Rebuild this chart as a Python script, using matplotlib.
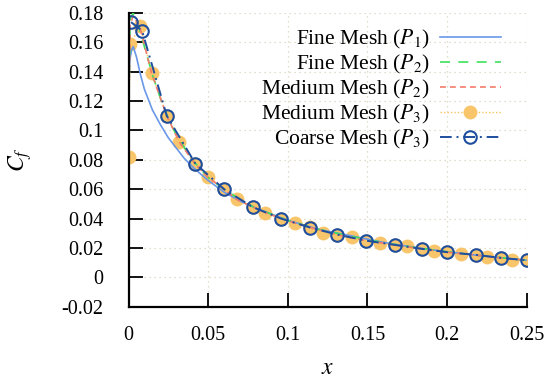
import matplotlib
matplotlib.use("Agg")
import matplotlib.pyplot as plt
from matplotlib.ticker import FixedLocator, FuncFormatter

plt.rcParams['font.family'] = ['Liberation Serif', 'DejaVu Serif']
plt.rcParams['mathtext.fontset'] = 'stix'

# ---------------- data ----------------
fine_p1_x = [0.0, 0.0008, 0.002, 0.003, 0.005, 0.0075, 0.01, 0.0125, 0.015, 0.02, 0.025,
             0.03, 0.035, 0.04, 0.045, 0.05, 0.06, 0.07, 0.08, 0.09, 0.1, 0.12, 0.14,
             0.16, 0.18, 0.2, 0.22, 0.24, 0.25]
fine_p1_y = [0.13, 0.148, 0.155, 0.157, 0.150, 0.138, 0.128, 0.121, 0.114, 0.104, 0.095,
             0.088, 0.081, 0.0755, 0.0706, 0.066, 0.058, 0.052, 0.047, 0.043, 0.0388, 0.0325,
             0.0282, 0.0238, 0.0203, 0.0174, 0.0149, 0.0127, 0.0116]

fine_p2_x = [0.0, 0.001, 0.003, 0.006, 0.01, 0.015, 0.02, 0.025, 0.03, 0.04, 0.05, 0.06,
             0.07, 0.08, 0.1, 0.12, 0.14, 0.16, 0.18, 0.2, 0.22, 0.24, 0.25]
fine_p2_y = [0.10, 0.176, 0.180, 0.172, 0.157, 0.138, 0.122, 0.108, 0.097, 0.080, 0.068,
             0.060, 0.053, 0.047, 0.0388, 0.0325, 0.0278, 0.0236, 0.0203, 0.0174, 0.0149,
             0.0127, 0.0116]

medium_p2_x = [0.0, 0.001, 0.003, 0.0072, 0.0145, 0.024, 0.032, 0.042, 0.05, 0.06, 0.068,
               0.078, 0.086, 0.096, 0.1045, 0.114, 0.131, 0.149, 0.167, 0.184, 0.2, 0.218,
               0.234, 0.25]
medium_p2_y = [0.10, 0.172, 0.178, 0.170, 0.139, 0.110, 0.092, 0.077, 0.068, 0.060, 0.053,
               0.048, 0.044, 0.040, 0.037, 0.034, 0.029, 0.025, 0.0221, 0.0194, 0.0171,
               0.0151, 0.0132, 0.0116]

medium_p3_x = [0.0, 0.001, 0.0075, 0.0145, 0.024, 0.032, 0.042, 0.050, 0.060, 0.068, 0.078,
               0.086, 0.096, 0.1045, 0.114, 0.122, 0.131, 0.140, 0.149, 0.158, 0.167, 0.175,
               0.184, 0.192, 0.200, 0.209, 0.218, 0.225, 0.234, 0.241, 0.250]
medium_p3_y = [0.082, 0.159, 0.171, 0.139, 0.110, 0.092, 0.077, 0.068, 0.060, 0.053, 0.048,
               0.044, 0.040, 0.037, 0.034, 0.0305, 0.029, 0.0275, 0.025, 0.0235, 0.022, 0.021,
               0.0194, 0.0182, 0.0171, 0.0160, 0.0153, 0.0141, 0.0132, 0.0120, 0.0116]

coarse_p3_x = [0.0016, 0.0085, 0.024, 0.042, 0.060, 0.078, 0.096, 0.114, 0.131, 0.149,
               0.167, 0.184, 0.200, 0.218, 0.234, 0.250]
coarse_p3_y = [0.1737, 0.168, 0.110, 0.0774, 0.0600, 0.0478, 0.0399, 0.0339, 0.0291, 0.0250,
               0.0221, 0.0194, 0.0171, 0.0153, 0.0132, 0.0116]

x_ticks = [0, 0.05, 0.1, 0.15, 0.2, 0.25]
y_ticks = [-0.02, 0, 0.02, 0.04, 0.06, 0.08, 0.1, 0.12, 0.14, 0.16, 0.18]

labels = [r"Fine Mesh ($P_1$)", r"Fine Mesh ($P_2$)", r"Medium Mesh ($P_2$)",
          r"Medium Mesh ($P_3$)", r"Coarse Mesh ($P_3$)"]

# ---------------- figure ----------------
fig = plt.figure(figsize=(5.52, 3.81), dpi=100)
ax = fig.add_axes([0.2328, 0.195, 0.7214, 0.771])

ax.plot(fine_p1_x, fine_p1_y, color='#6a98e8', lw=1.2, label=labels[0], zorder=3)
ax.plot(fine_p2_x, fine_p2_y, color='#3de05a', lw=1.2, ls=(0, (6, 5)), label=labels[1], zorder=3)
ax.plot(medium_p2_x, medium_p2_y, color='#f47a6a', lw=1.2, ls=(0, (3.5, 2.5)), label=labels[2], zorder=3)
ax.plot(medium_p3_x, medium_p3_y, color='#f7c261', lw=1.0, ls=(0, (1, 1.5)), marker='o',
        ms=10, mec='none', mfc='#f8c56a', label=labels[3], zorder=2)
ax.plot(coarse_p3_x, coarse_p3_y, color='#1f4e9e', lw=1.4, ls=(0, (6, 2.5, 1, 2.5)), marker='o',
        ms=9, mfc='none', mec='#1f4e9e', mew=1.5, label=labels[4], zorder=4)

ax.set_xlim(0, 0.25)
ax.set_ylim(-0.02, 0.18)
ax.xaxis.set_major_locator(FixedLocator(x_ticks))
ax.yaxis.set_major_locator(FixedLocator(y_ticks))


def fmt(v, pos):
    s = ('%.3f' % v).rstrip('0').rstrip('.')
    if s == '-0':
        s = '0'
    return s


ax.xaxis.set_major_formatter(FuncFormatter(fmt))
ax.yaxis.set_major_formatter(FuncFormatter(fmt))

for s in ['top', 'right']:
    ax.spines[s].set_visible(False)
for s in ['left', 'bottom']:
    ax.spines[s].set_linewidth(1.6)
    ax.spines[s].set_zorder(5)

ax.tick_params(axis='both', direction='in', length=10, width=1.3, labelsize=14.5)
ax.tick_params(axis='y', pad=18)
ax.tick_params(axis='x', pad=14)

ax.grid(True, ls=(0, (1, 3)), color='#d9d4bf', lw=0.9)
ax.set_axisbelow(True)

ax.set_xlabel(r"$x$", fontsize=17, labelpad=9)
ax.set_ylabel(r"$C_f$", fontsize=17, labelpad=20)

leg = ax.legend(loc='upper right', bbox_to_anchor=(0.945, 0.965), frameon=False, markerfirst=False,
                fontsize=15.5, handlelength=2.8, handletextpad=0.5, labelspacing=0.1,
                borderaxespad=0.0, borderpad=0.2)

fig.savefig("out.png", dpi=100)
